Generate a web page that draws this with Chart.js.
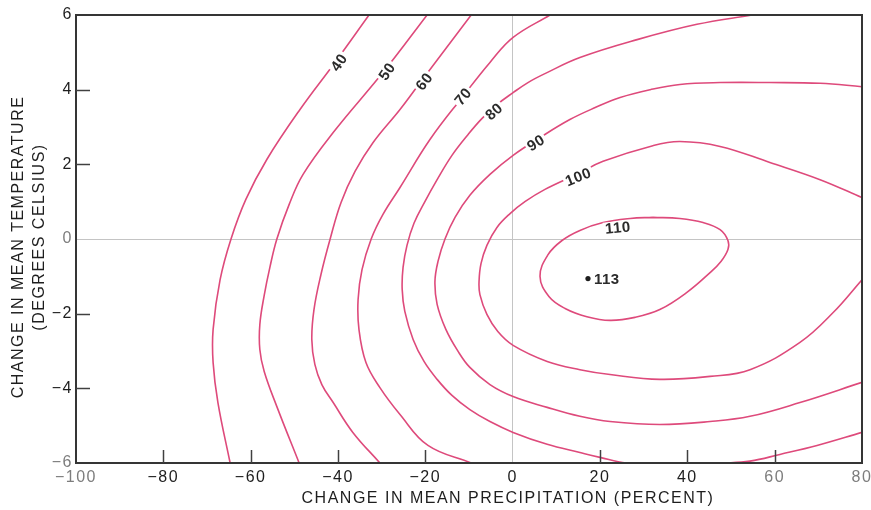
<!DOCTYPE html>
<html>
<head>
<meta charset="utf-8">
<script src="https://cdn.jsdelivr.net/npm/chart.js@4.4.1/dist/chart.umd.min.js"></script>
<style>
html,body{margin:0;padding:0;background:#fff;}
#wrap{width:871px;height:510px;position:relative;}
</style>
</head>
<body>
<div id="wrap"><canvas id="c"></canvas></div>
<script>
// ---- axis ticks ----
const xTicks = [-100, -80, -60, -40, -20, 0, 20, 40, 60, 80];
const yTicks = [-6, -4, -2, 0, 2, 4, 6];

// ---- contour lines (precipitation change %, temperature change °C) ----
const c40x = [-32.9, -40.7, -48.7, -56.3, -61.1, -64.5, -67.0, -68.6, -68.6, -67.5, -64.7];
const c40y = [6, 4.73, 3.47, 2.13, 1.06, 0, -1.09, -2.42, -3.31, -4.38, -6];

const c50x = [-19.6, -29.5, -41.1, -48.0, -51.2, -54.0, -55.6, -56.9, -57.9, -57.9, -56.9, -54.0, -48.9];
const c50y = [6, 4.49, 2.85, 1.73, 0.92, 0, -0.76, -1.51, -2.29, -2.96, -3.55, -4.49, -6];

const c60x = [-9.5, -21.0, -25.8, -32.0, -36.1, -39.3, -41.8, -43.9, -45.5, -46.0, -45.3, -43.7, -41.1, -36.6, -30.4];
const c60y = [6, 4.22, 3.47, 2.58, 1.81, 0.98, 0, -0.95, -1.89, -2.69, -3.36, -3.90, -4.38, -5.18, -6];

const c70x = [8.55, 0.1, -5.2, -11.4, -18.9, -25.8, -29.7, -32.4, -34.5, -35.4, -35.2, -33.6, -30.4, -25.8, -19.4, -9.5];
const c70y = [6, 5.40, 4.73, 3.82, 2.67, 1.38, 0.66, 0, -0.82, -1.62, -2.42, -3.31, -3.98, -4.70, -5.53, -6];

const c80x = [54.8, 42.2, 28.5, 15.4, 7.4, 3.5, 0.1, -3.6, -7.0, -10.2, -13.9, -17.3, -20.1, -22.6, -24.2, -25.1, -25.3, -24.7, -22.8, -20.3, -17.3, -13.9, -9.8, -5.2, 0.1, 7.9, 15.4, 20.0, 26.0, 37.2, 48.2, 54.35, 61.2, 69.7, 80];
const c80y = [6, 5.75, 5.34, 4.86, 4.43, 4.19, 3.92, 3.60, 3.23, 2.80, 2.24, 1.59, 1.00, 0.42, -0.17, -0.76, -1.35, -1.94, -2.69, -3.28, -3.76, -4.19, -4.57, -4.89, -5.18, -5.50, -5.72, -5.85, -6, -6.05, -6, -5.95, -5.77, -5.53, -5.18];

const c90x = [80, 70.4, 58.9, 47.5, 38.3, 31.5, 24.6, 18.9, 13.1, 6.3, 0.1, -5.2, -9.8, -13.2, -15.5, -17.1, -17.8, -17.3, -15.3, -12.5, -9.8, -5.2, 0.1, 7.9, 15.4, 22.3, 33.7, 45.2, 54.35, 65.8, 80];
const c90y = [4.08, 4.17, 4.19, 4.19, 4.14, 4.00, 3.79, 3.52, 3.20, 2.72, 2.24, 1.73, 1.17, 0.58, 0, -0.60, -1.14, -1.75, -2.42, -3.01, -3.44, -3.90, -4.22, -4.51, -4.75, -4.89, -4.97, -4.89, -4.75, -4.38, -3.84];

const c100x = [80, 70.4, 58.9, 47.5, 38.3, 32.1, 20.7, 15.0, 7.4, 2.8, -0.6, -3.6, -5.9, -7.25, -7.7, -7.5, -5.9, -3.4, 0.1, 7.9, 15.4, 22.3, 33.7, 45.2, 54.35, 65.8, 73.4, 80];
const c100y = [1.11, 1.59, 2.05, 2.48, 2.61, 2.50, 2.08, 1.75, 1.33, 1.00, 0.68, 0.31, -0.17, -0.66, -1.14, -1.49, -2.02, -2.48, -2.85, -3.28, -3.50, -3.63, -3.76, -3.68, -3.50, -2.77, -1.97, -1.09];

const c110x = [32.1, 38.3, 43.6, 47.5, 49.3, 49.3, 47.7, 45.2, 39.9, 33.7, 28.0, 22.3, 17.0, 12.0, 8.3, 6.26, 8.1, 11.3, 15.4, 20.7, 26.9, 32.1];
const c110y = [0.58, 0.55, 0.44, 0.25, -0.04, -0.28, -0.6, -0.9, -1.43, -1.89, -2.1, -2.18, -2.08, -1.86, -1.54, -1.0, -0.42, -0.04, 0.23, 0.44, 0.55, 0.58];

// ---- maximum ----
const peakX = [17.25];
const peakY = [-1.06];
const peakLabel = ['113'];

// ---- contour labels ----
const labelText = ['40', '50', '60', '70', '80', '90', '100', '110'];
const labelX = [-39.8, -28.8, -20.3, -11.4, -4.3, 5.3, 15.0, 24.1];
const labelY = [4.73, 4.49, 4.22, 3.82, 3.42, 2.58, 1.67, 0.31];
const labelAngle = [-55, -55, -53, -50, -42, -32, -22, -5];

// ---- styling ----
const LINE = '#de4a7b';
const ZERO = '#c4c4c4';
const DARK = '#1e1e1e';
const GRAY = '#7d7d7d';
const FONT = '"Liberation Sans", Arial, Helvetica, sans-serif';
Chart.defaults.font.family = FONT;

const fmt = v => (v < 0 ? '\u2212' : '') + Math.abs(v);
const grayX = [-100, 60, 80];
const grayY = [-6, 0];

const contours = [[c40x, c40y], [c50x, c50y], [c60x, c60y], [c70x, c70y], [c80x, c80y], [c90x, c90y], [c100x, c100y], [c110x, c110y]];
const datasets = contours.map(([xs, ys]) => ({
  data: xs.map((x, i) => ({x, y: ys[i]})),
  showLine: true,
  borderColor: LINE,
  borderWidth: 1.6,
  pointRadius: 0,
  tension: 0.4,
  fill: false
}));
datasets.push({
  data: peakX.map((x, i) => ({x, y: peakY[i]})),
  showLine: false,
  pointRadius: 2.6,
  pointBackgroundColor: DARK,
  pointBorderWidth: 0
});

const decorPlugin = {
  id: 'decor',
  beforeDraw(chart) { chart.ctx.letterSpacing = '1.5px'; },
  afterDatasetsDraw(chart) {
    const {ctx, chartArea: a, scales: {x, y}} = chart;
    ctx.save();
    // contour labels
    ctx.font = 'bold 15px ' + FONT;
    ctx.letterSpacing = '0.5px';
    ctx.textAlign = 'center';
    ctx.textBaseline = 'middle';
    labelText.forEach((t, i) => {
      const px = x.getPixelForValue(labelX[i]);
      const py = y.getPixelForValue(labelY[i]);
      ctx.save();
      ctx.translate(px, py);
      ctx.rotate(labelAngle[i] * Math.PI / 180);
      const w = ctx.measureText(t).width;
      ctx.fillStyle = '#fff';
      ctx.fillRect(-w / 2 - 2, -6, w + 4, 12);
      ctx.fillStyle = '#2b2b2b';
      ctx.fillText(t, 0, 1);
      ctx.restore();
    });
    // maximum label
    ctx.textAlign = 'left';
    ctx.fillStyle = '#2b2b2b';
    peakLabel.forEach((t, i) => {
      ctx.fillText(t, x.getPixelForValue(peakX[i]) + 6, y.getPixelForValue(peakY[i]) + 1);
    });
    // frame
    ctx.strokeStyle = '#353535';
    ctx.lineWidth = 2;
    ctx.strokeRect(a.left, a.top, a.right - a.left, a.bottom - a.top);
    // inward tick marks
    ctx.lineWidth = 1.5;
    ctx.strokeStyle = '#404040';
    xTicks.forEach(v => {
      if (v === 0 || v === xTicks[0] || v === xTicks[xTicks.length - 1]) return;
      const px = Math.round(x.getPixelForValue(v)) + 0.5;
      ctx.beginPath(); ctx.moveTo(px, a.bottom); ctx.lineTo(px, a.bottom - 13); ctx.stroke();
    });
    yTicks.forEach(v => {
      if (v === 0 || v === yTicks[0] || v === yTicks[yTicks.length - 1]) return;
      const py = Math.round(y.getPixelForValue(v)) + 0.5;
      ctx.beginPath(); ctx.moveTo(a.left, py); ctx.lineTo(a.left + 14, py); ctx.stroke();
    });
    ctx.restore();
  },
  afterDraw(chart) {
    const ctx = chart.ctx;
    ctx.save();
    ctx.letterSpacing = '1.5px';
    ctx.fillStyle = DARK;
    ctx.font = '16px ' + FONT;
    ctx.textAlign = 'center';
    ctx.textBaseline = 'middle';
    ctx.fillText('CHANGE IN MEAN PRECIPITATION (PERCENT)', 508, 499);
    ctx.save();
    ctx.translate(18.5, 247);
    ctx.rotate(-Math.PI / 2);
    ctx.fillText('CHANGE IN MEAN TEMPERATURE', 0, 0);
    ctx.restore();
    ctx.save();
    ctx.translate(40, 237);
    ctx.rotate(-Math.PI / 2);
    ctx.fillText('(DEGREES CELSIUS)', 0, 0);
    ctx.restore();
    ctx.restore();
    ctx.letterSpacing = '0px';
  }
};

new Chart(document.getElementById('c'), {
  type: 'scatter',
  data: {datasets},
  plugins: [decorPlugin],
  options: {
    responsive: true,
    maintainAspectRatio: false,
    animation: false,
    events: [],
    layout: {padding: {left: 0, right: 9, top: 15, bottom: 0}},
    plugins: {legend: {display: false}, tooltip: {enabled: false}},
    scales: {
      x: {
        type: 'linear', min: -100, max: 80,
        afterBuildTicks: s => { s.ticks = xTicks.map(v => ({value: v})); },
        afterFit: s => { s.height = 47; s.paddingLeft = 0; s.paddingRight = 0; },
        border: {display: false},
        grid: {drawTicks: false, lineWidth: 1, color: c => (c.tick && c.tick.value === 0) ? ZERO : 'rgba(0,0,0,0)'},
        ticks: {
          padding: 5, autoSkip: false, maxRotation: 0, font: {size: 16},
          color: c => grayX.includes(c.tick.value) ? GRAY : DARK,
          callback: v => fmt(v)
        }
      },
      y: {
        type: 'linear', min: -6, max: 6,
        afterBuildTicks: s => { s.ticks = yTicks.map(v => ({value: v})); },
        afterFit: s => { s.width = 76; s.paddingTop = 0; s.paddingBottom = 0; },
        border: {display: false},
        grid: {drawTicks: false, lineWidth: 1, color: c => (c.tick && c.tick.value === 0) ? ZERO : 'rgba(0,0,0,0)'},
        ticks: {
          padding: 3, autoSkip: false, font: {size: 16},
          color: c => grayY.includes(c.tick.value) ? GRAY : DARK,
          callback: v => fmt(v)
        }
      }
    }
  }
});
</script>
</body>
</html>
